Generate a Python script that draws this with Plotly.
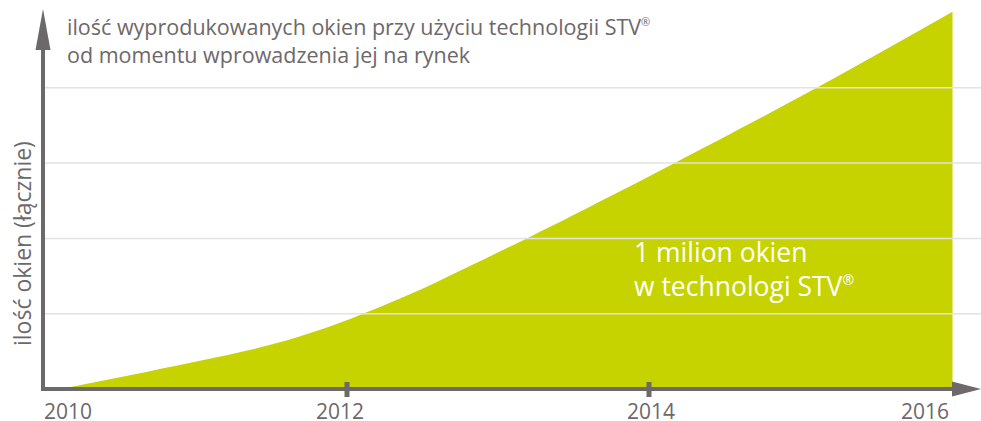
import plotly.graph_objects as go

# ---- data ----
years = [2010.10, 2010.70, 2011.36, 2011.69, 2012.02, 2012.42, 2012.81, 2013.20,
         2013.54, 2014.17, 2015.11, 2016.01]
windows_cum = [0.0, 0.24, 0.52, 0.70, 0.93, 1.26, 1.63, 2.01, 2.35, 3.0, 4.0, 5.01]
tick_years = [2010, 2012, 2014, 2016]
tick_labels = ["2010", "2012", "2014", "2016"]
grid_levels = [1, 2, 3, 4]
REG = "<sup><span style='font-size:11px'>®</span></sup>"
title_lines = ["ilość wyprodukowanych okien przy użyciu technologii STV" + REG,
               "od momentu wprowadzenia jej na rynek"]
y_title = "ilość okien (łącznie)"
callout = ["1 milion okien", "w technologi STV" + REG.replace("11px", "14px")]

W, H = 981, 421
GREEN = "#c6d300"
AXIS = "#6d6869"
TEXT = "#6d6869"
GRID = "#e2e2e2"
FONT = "Open Sans"

# pixel layout of the axes (plot area = whole canvas)
X0_PX, PX_PER_YEAR = 45, 151
Y0_PX, PX_PER_UNIT = 389, 75.3
x_range = [2010 - X0_PX / PX_PER_YEAR, 2010 + (W - X0_PX) / PX_PER_YEAR]
y_range = [-(H - Y0_PX) / PX_PER_UNIT, Y0_PX / PX_PER_UNIT]


def px(p):  # pixel x -> paper
    return p / W


def py(p):  # pixel y (from top) -> paper
    return 1 - p / H


fig = go.Figure()
fig.add_trace(go.Scatter(
    x=years, y=windows_cum, mode="lines", line=dict(width=0, shape="spline", smoothing=1.0),
    fill="tozeroy", fillcolor=GREEN, hoverinfo="skip", showlegend=False))

shapes = []
# grid lines (drawn over the area, as in the original)
for g in grid_levels:
    shapes.append(dict(type="line", xref="paper", yref="y", x0=px(45), x1=1, y0=g, y1=g,
                       line=dict(color=GRID, width=1.5), layer="above"))
# y axis with arrow
shapes.append(dict(type="line", xref="paper", yref="paper", x0=px(43), x1=px(43),
                   y0=py(391), y1=py(48), line=dict(color=AXIS, width=4), layer="above"))
shapes.append(dict(type="path", xref="paper", yref="paper",
                   path=f"M {px(35.5)} {py(50)} L {px(43)} {py(9)} L {px(50.5)} {py(50)} Z",
                   fillcolor=AXIS, line=dict(width=0), layer="above"))
# x axis with arrow
shapes.append(dict(type="line", xref="paper", yref="paper", x0=px(41), x1=px(955),
                   y0=py(389), y1=py(389), line=dict(color=AXIS, width=4), layer="above"))
shapes.append(dict(type="path", xref="paper", yref="paper",
                   path=f"M {px(952)} {py(381.5)} L {px(981)} {py(389)} L {px(952)} {py(396.5)} Z",
                   fillcolor=AXIS, line=dict(width=0), layer="above"))
# tick marks
for t in tick_years[1:-1]:
    shapes.append(dict(type="line", xref="x", yref="paper", x0=t, x1=t,
                       y0=py(382), y1=py(397), line=dict(color=AXIS, width=5), layer="above"))

annotations = []
anchors = ["left", "center", "center", "right"]
offsets = [-3, -7, 2, 0]
for t, lab, anc, off in zip(tick_years, tick_labels, anchors, offsets):
    annotations.append(dict(x=t, y=py(395), xref="x", yref="paper", text=lab, showarrow=False,
                            xanchor=anc, yanchor="top", xshift=off,
                            font=dict(family=FONT, size=21, color=TEXT)))
annotations.append(dict(x=px(65), y=py(10), xref="paper", yref="paper",
                        text="<br>".join(title_lines), showarrow=False, align="left",
                        xanchor="left", yanchor="top",
                        font=dict(family=FONT, size=21.5, color=TEXT)))
annotations.append(dict(x=px(22), y=py(244), xref="paper", yref="paper", text=y_title,
                        showarrow=False, textangle=-90, xanchor="center", yanchor="middle",
                        font=dict(family=FONT, size=23, color=TEXT)))
annotations.append(dict(x=px(632), y=py(232), xref="paper", yref="paper",
                        text="<br>".join(callout), showarrow=False, align="left",
                        xanchor="left", yanchor="top",
                        font=dict(family=FONT, size=26.5, color="white")))

fig.update_layout(
    width=W, height=H, margin=dict(l=0, r=0, t=0, b=0),
    paper_bgcolor="white", plot_bgcolor="white",
    xaxis=dict(range=x_range, visible=False, fixedrange=True),
    yaxis=dict(range=y_range, visible=False, fixedrange=True),
    shapes=shapes, annotations=annotations, showlegend=False,
)
fig.write_html("out.html", config={"displayModeBar": False})
